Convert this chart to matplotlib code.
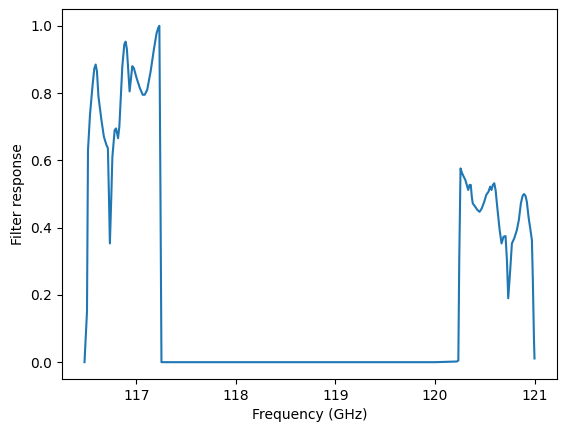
import matplotlib
matplotlib.use("Agg")
import matplotlib.pyplot as plt

# Filter response, frequency in GHz
freq_ghz = [
    116.48, 116.505, 116.515, 116.535, 116.56, 116.578, 116.592, 116.605, 116.62,
    116.65, 116.675, 116.70, 116.715, 116.725, 116.735, 116.748, 116.76, 116.783,
    116.797, 116.817, 116.83, 116.86, 116.88, 116.893, 116.906, 116.933, 116.96,
    116.976, 117.003, 117.036, 117.065, 117.085, 117.11, 117.144, 117.177, 117.204,
    117.222, 117.232, 117.243, 117.253, 117.30, 118.0, 119.0, 120.0, 120.22,
    120.235, 120.244, 120.257, 120.271, 120.288, 120.305, 120.32, 120.334, 120.348,
    120.36, 120.37, 120.38, 120.405, 120.428, 120.448, 120.47, 120.495, 120.515,
    120.538, 120.555, 120.568, 120.582, 120.596, 120.609, 120.629, 120.65, 120.669,
    120.689, 120.709, 120.723, 120.736, 120.756, 120.773, 120.796, 120.823, 120.843,
    120.863, 120.88, 120.895, 120.91, 120.923, 120.94, 120.957, 120.974, 120.984,
    120.994, 121.0,
]
response = [
    0.0, 0.15, 0.63, 0.735, 0.82, 0.872, 0.885, 0.865, 0.79,
    0.72, 0.67, 0.646, 0.636, 0.50, 0.353, 0.48, 0.61, 0.69,
    0.695, 0.666, 0.70, 0.88, 0.945, 0.953, 0.93, 0.805, 0.88,
    0.874, 0.845, 0.815, 0.795, 0.795, 0.81, 0.864, 0.93, 0.978,
    0.995, 1.0, 0.50, 0.0, 0.0, 0.0, 0.0, 0.0, 0.002,
    0.005, 0.30, 0.576, 0.563, 0.552, 0.542, 0.527, 0.512, 0.527,
    0.527, 0.492, 0.472, 0.462, 0.452, 0.447, 0.457, 0.477, 0.497,
    0.507, 0.522, 0.512, 0.527, 0.532, 0.512, 0.452, 0.393, 0.353,
    0.373, 0.375, 0.304, 0.19, 0.274, 0.353, 0.368, 0.393, 0.423,
    0.472, 0.494, 0.50, 0.494, 0.477, 0.432, 0.398, 0.363, 0.234,
    0.075, 0.011,
]

fig = plt.figure(figsize=(5.67, 4.32), dpi=100)
ax = fig.add_axes([62 / 567, 53 / 432, 495 / 567, 370 / 432])
ax.plot(freq_ghz, response, color="C0", linewidth=1.5)
ax.set_xlabel("Frequency (GHz)")
ax.set_ylabel("Filter response")

fig.savefig("out.png", dpi=100)
